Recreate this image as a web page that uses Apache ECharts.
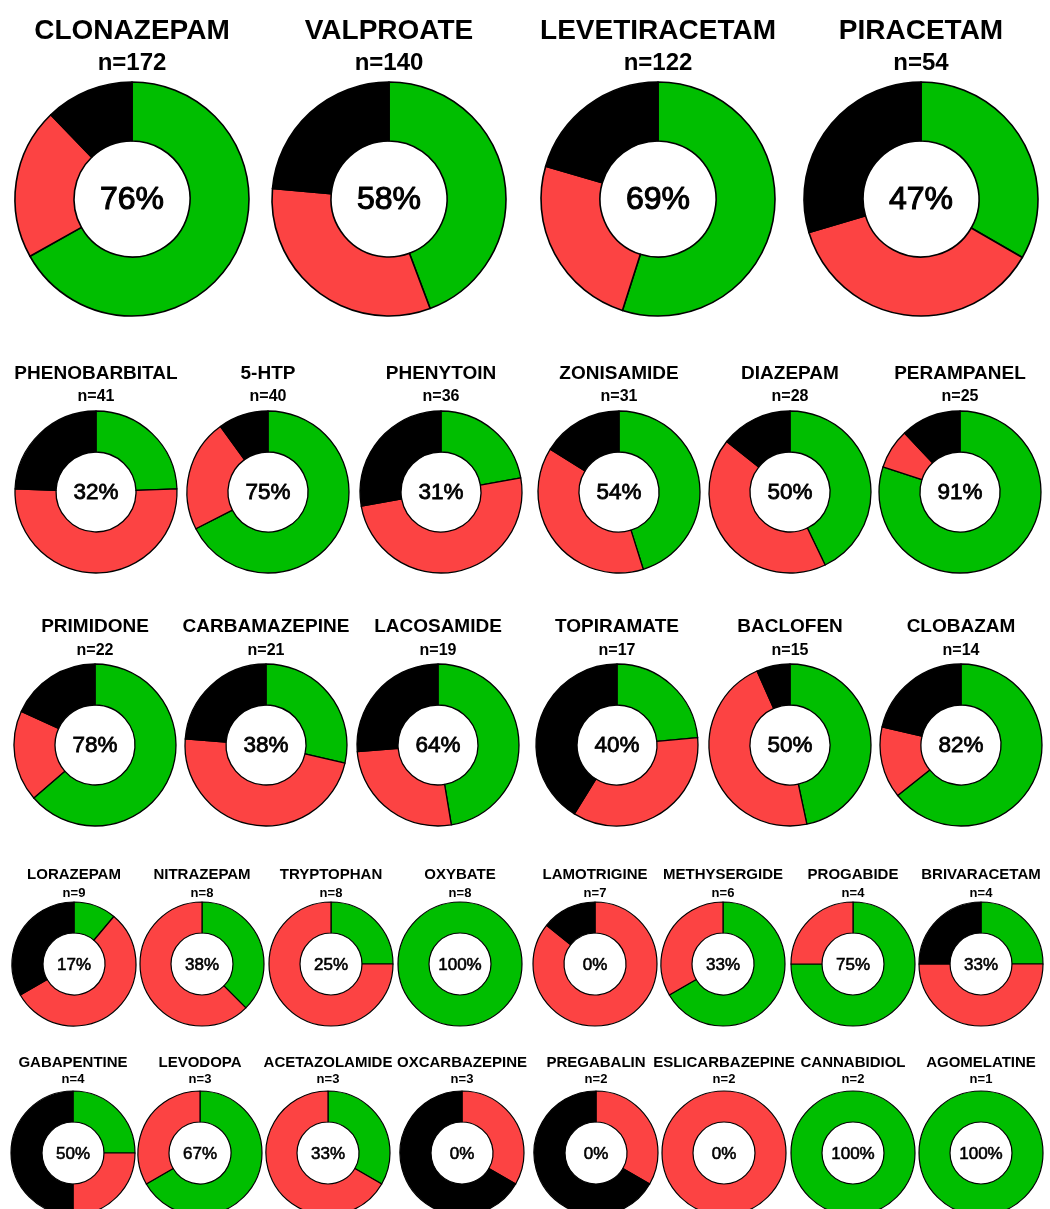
<!DOCTYPE html>
<html>
<head>
<meta charset="utf-8">
<title>Response by drug</title>
<script src="https://cdn.jsdelivr.net/npm/echarts@6/dist/echarts.min.js"></script>
<style>
  html, body { margin: 0; padding: 0; background: #fff; }
  #chart { width: 1050px; height: 1209px; }
</style>
</head>
<body>
<div id="chart"></div>
<script>
// Drugs in order of patient count
const drugs = [
  'CLONAZEPAM', 'VALPROATE', 'LEVETIRACETAM', 'PIRACETAM',
  'PHENOBARBITAL', '5-HTP', 'PHENYTOIN', 'ZONISAMIDE', 'DIAZEPAM', 'PERAMPANEL',
  'PRIMIDONE', 'CARBAMAZEPINE', 'LACOSAMIDE', 'TOPIRAMATE', 'BACLOFEN', 'CLOBAZAM',
  'LORAZEPAM', 'NITRAZEPAM', 'TRYPTOPHAN', 'OXYBATE', 'LAMOTRIGINE', 'METHYSERGIDE', 'PROGABIDE', 'BRIVARACETAM',
  'GABAPENTINE', 'LEVODOPA', 'ACETAZOLAMIDE', 'OXCARBAZEPINE', 'PREGABALIN', 'ESLICARBAZEPINE', 'CANNABIDIOL', 'AGOMELATINE'
];
// Patients treated (n=)
const patients = [
  172, 140, 122, 54,
  41, 40, 36, 31, 28, 25,
  22, 21, 19, 17, 15, 14,
  9, 8, 8, 8, 7, 6, 4, 4,
  4, 3, 3, 3, 2, 2, 2, 1
];
// Improved (green)
const improved = [
  115, 62, 67, 18,
  10, 27, 8, 14, 12, 20,
  14, 6, 9, 4, 7, 9,
  1, 3, 2, 8, 0, 4, 3, 1,
  1, 2, 1, 0, 0, 0, 2, 1
];
// No benefit / worsened (red)
const notImproved = [
  36, 45, 30, 20,
  21, 9, 18, 12, 12, 2,
  4, 10, 5, 6, 7, 2,
  5, 5, 6, 0, 6, 2, 1, 2,
  1, 1, 2, 1, 1, 2, 0, 0
];
// Outcome not reported (black)
const unknown = [
  21, 33, 25, 16,
  10, 4, 10, 5, 4, 3,
  4, 5, 5, 7, 1, 3,
  3, 0, 0, 0, 1, 0, 0, 1,
  2, 0, 0, 2, 2, 0, 0, 0
];
// Response rate printed in each ring (%)
const responseRate = [
  76, 58, 69, 47,
  32, 75, 31, 54, 50, 91,
  78, 38, 64, 40, 50, 82,
  17, 38, 25, 100, 0, 33, 75, 33,
  50, 67, 33, 0, 0, 0, 100, 100
];

// Grid layout: one entry per row of rings
const rows = [
  { cx: [132, 389, 658, 921], cy: 199, outer: 117, inner: 58, titleY: 31, nY: 63, titleSize: 28, nSize: 24, pctSize: 32, pctStroke: 1.1, border: 1.6 },
  { cx: [96, 268, 441, 619, 790, 960], cy: 492, outer: 81, inner: 40, titleY: 374, nY: 397, titleSize: 19, nSize: 16, pctSize: 22.5, pctStroke: 0.8, border: 1.3 },
  { cx: [95, 266, 438, 617, 790, 961], cy: 745, outer: 81, inner: 40, titleY: 627, nY: 651, titleSize: 19, nSize: 16, pctSize: 22.5, pctStroke: 0.8, border: 1.3 },
  { cx: [74, 202, 331, 460, 595, 723, 853, 981], cy: 964, outer: 62, inner: 31, titleY: 875, nY: 893, titleSize: 15, nSize: 13, pctSize: 17, pctStroke: 0.6, border: 1.2 },
  { cx: [73, 200, 328, 462, 596, 724, 853, 981], cy: 1153, outer: 62, inner: 31, titleY: 1063, nY: 1079, titleSize: 15, nSize: 13, pctSize: 17, pctStroke: 0.6, border: 1.2 }
];

const GREEN = '#00be00';
const RED = '#fc4343';
const BLACK = '#000000';
const FONT = '"Liberation Sans", Arial, Helvetica, sans-serif';

const series = [];
const texts = [];
let idx = 0;
rows.forEach(function (row) {
  row.cx.forEach(function (x) {
    const i = idx++;
    const parts = [
      { name: 'Improved', value: improved[i], itemStyle: { color: GREEN } },
      { name: 'Not improved', value: notImproved[i], itemStyle: { color: RED } },
      { name: 'Unknown', value: unknown[i], itemStyle: { color: BLACK } }
    ].filter(function (d) { return d.value > 0; });

    series.push({
      type: 'pie',
      name: drugs[i],
      center: [x, row.cy],
      radius: [row.inner, row.outer],
      startAngle: 90,
      clockwise: true,
      silent: true,
      animation: false,
      avoidLabelOverlap: false,
      label: { show: false },
      labelLine: { show: false },
      emphasis: { disabled: true },
      itemStyle: { borderColor: '#000', borderWidth: row.border },
      data: parts
    });

    texts.push({
      type: 'text', x: x, y: row.titleY, silent: true,
      style: { text: drugs[i], fill: '#000', font: 'bold ' + row.titleSize + 'px ' + FONT, align: 'center', verticalAlign: 'middle' }
    });
    texts.push({
      type: 'text', x: x, y: row.nY, silent: true,
      style: { text: 'n=' + patients[i], fill: '#000', font: 'bold ' + row.nSize + 'px ' + FONT, align: 'center', verticalAlign: 'middle' }
    });
    texts.push({
      type: 'text', x: x, y: row.cy + 1, silent: true, z: 100,
      style: {
        text: responseRate[i] + '%', fill: '#000', stroke: '#000', lineWidth: row.pctStroke,
        font: row.pctSize + 'px ' + FONT, align: 'center', verticalAlign: 'middle'
      }
    });
  });
});

const chart = echarts.init(document.getElementById('chart'), null, { renderer: 'canvas' });
chart.setOption({
  backgroundColor: '#ffffff',
  animation: false,
  series: series,
  graphic: { elements: texts }
});
</script>
</body>
</html>
